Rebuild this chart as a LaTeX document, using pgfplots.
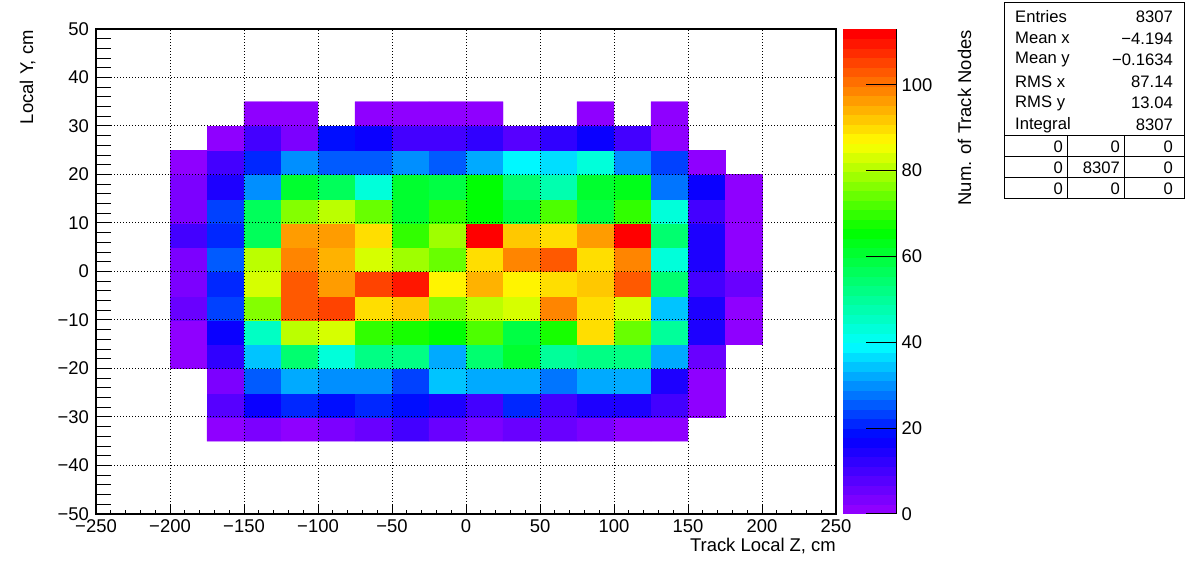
\documentclass[border=0pt]{standalone}
\usepackage{pgfplots}
\pgfplotsset{compat=1.18}
\usepackage{pgfplotstable}
\usepackage{fontspec}
\setmainfont{Liberation Sans}
\newcommand\tfont{\fontsize{18.5}{20}\selectfont}
\newcommand\sfont{\fontsize{16.7}{18}\selectfont}

\pgfplotsset{
  colormap={rootcont}{
    rgb255(0pt)=(143,0,255)
    rgb255(17pt)=(0,0,255)
    rgb255(39pt)=(0,255,255)
    rgb255(66pt)=(0,255,0)
    rgb255(87pt)=(255,255,0)
    rgb255(100pt)=(255,128,0)
    rgb255(113pt)=(255,0,0)
  },
  colormap={rootpal}{samples of colormap=(51 of rootcont)},
}

\pgfplotstableread{
x y c
-187.5 -32.5 nan
-162.5 -32.5 1
-137.5 -32.5 3
-112.5 -32.5 1
-87.5 -32.5 3
-62.5 -32.5 6
-37.5 -32.5 9
-12.5 -32.5 5
12.5 -32.5 3
37.5 -32.5 6
62.5 -32.5 6
87.5 -32.5 3
112.5 -32.5 1
137.5 -32.5 1
162.5 -32.5 nan
187.5 -32.5 nan
-187.5 -27.5 nan
-162.5 -27.5 7
-137.5 -27.5 17
-112.5 -27.5 20
-87.5 -27.5 19
-62.5 -27.5 20
-37.5 -27.5 19
-12.5 -27.5 14
12.5 -27.5 9
37.5 -27.5 21
62.5 -27.5 11
87.5 -27.5 14
112.5 -27.5 14
137.5 -27.5 11
162.5 -27.5 2
187.5 -27.5 nan
-187.5 -22.5 nan
-162.5 -22.5 3
-137.5 -22.5 26
-112.5 -22.5 32
-87.5 -22.5 29
-62.5 -22.5 29
-37.5 -22.5 24
-12.5 -22.5 35
12.5 -22.5 33
37.5 -22.5 33
62.5 -22.5 27
87.5 -22.5 33
112.5 -22.5 32
137.5 -22.5 14
162.5 -22.5 2
187.5 -22.5 nan
-187.5 -17.5 1
-162.5 -17.5 12
-137.5 -17.5 35
-112.5 -17.5 55
-87.5 -17.5 43
-62.5 -17.5 52
-37.5 -17.5 53
-12.5 -17.5 33
12.5 -17.5 55
37.5 -17.5 62
62.5 -17.5 50
87.5 -17.5 53
112.5 -17.5 53
137.5 -17.5 33
162.5 -17.5 6
187.5 -17.5 nan
-187.5 -12.5 1
-162.5 -12.5 17
-137.5 -12.5 46
-112.5 -12.5 81
-87.5 -12.5 83
-62.5 -12.5 69
-37.5 -12.5 67
-12.5 -12.5 66
12.5 -12.5 73
37.5 -12.5 58
62.5 -12.5 67
87.5 -12.5 89
112.5 -12.5 74
137.5 -12.5 50
162.5 -12.5 14
187.5 -12.5 1
-187.5 -7.5 6
-162.5 -7.5 23
-137.5 -7.5 76
-112.5 -7.5 103
-87.5 -7.5 106
-62.5 -7.5 89
-37.5 -7.5 91
-12.5 -7.5 77
12.5 -7.5 81
37.5 -7.5 84
62.5 -7.5 99
87.5 -7.5 89
112.5 -7.5 83
137.5 -7.5 35
162.5 -7.5 14
187.5 -7.5 1
-187.5 -2.5 3
-162.5 -2.5 21
-137.5 -2.5 83
-112.5 -2.5 103
-87.5 -2.5 96
-62.5 -2.5 106
-37.5 -2.5 110
-12.5 -2.5 87
12.5 -2.5 94
37.5 -2.5 87
62.5 -2.5 89
87.5 -2.5 91
112.5 -2.5 103
137.5 -2.5 55
162.5 -2.5 9
187.5 -2.5 6
-187.5 2.5 3
-162.5 2.5 26
-137.5 2.5 81
-112.5 2.5 99
-87.5 2.5 94
-62.5 2.5 84
-37.5 2.5 79
-12.5 2.5 74
12.5 2.5 89
37.5 2.5 99
62.5 2.5 103
87.5 2.5 89
112.5 2.5 99
137.5 2.5 44
162.5 2.5 14
187.5 2.5 2
-187.5 7.5 9
-162.5 7.5 21
-137.5 7.5 57
-112.5 7.5 96
-87.5 7.5 96
-62.5 7.5 89
-37.5 7.5 70
-12.5 7.5 79
12.5 7.5 113
37.5 7.5 91
62.5 7.5 89
87.5 7.5 96
112.5 7.5 112
137.5 7.5 55
162.5 7.5 14
187.5 7.5 2
-187.5 12.5 3
-162.5 12.5 24
-137.5 12.5 57
-112.5 12.5 76
-87.5 12.5 81
-62.5 12.5 74
-37.5 12.5 61
-12.5 12.5 70
12.5 12.5 66
37.5 12.5 58
62.5 12.5 73
87.5 12.5 58
112.5 12.5 69
137.5 12.5 44
162.5 12.5 9
187.5 12.5 1
-187.5 17.5 3
-162.5 17.5 14
-137.5 17.5 29
-112.5 17.5 61
-87.5 17.5 57
-62.5 17.5 44
-37.5 17.5 62
-12.5 17.5 58
12.5 17.5 66
37.5 17.5 55
62.5 17.5 48
87.5 17.5 62
112.5 17.5 64
137.5 17.5 27
162.5 17.5 17
187.5 17.5 1
-187.5 22.5 1
-162.5 22.5 11
-137.5 22.5 22
-112.5 22.5 29
-87.5 22.5 25
-62.5 22.5 25
-37.5 22.5 29
-12.5 22.5 25
12.5 22.5 33
37.5 22.5 39
62.5 22.5 37
87.5 22.5 44
112.5 22.5 29
137.5 22.5 23
162.5 22.5 2
187.5 22.5 nan
-187.5 27.5 nan
-162.5 27.5 1
-137.5 27.5 11
-112.5 27.5 3
-87.5 27.5 19
-62.5 27.5 17
-37.5 27.5 10
-12.5 27.5 11
12.5 27.5 12
37.5 27.5 8
62.5 27.5 13
87.5 27.5 17
112.5 27.5 9
137.5 27.5 2
162.5 27.5 nan
187.5 27.5 nan
-187.5 32.5 nan
-162.5 32.5 nan
-137.5 32.5 1
-112.5 32.5 1
-87.5 32.5 nan
-62.5 32.5 1
-37.5 32.5 1
-12.5 32.5 2
12.5 32.5 1
37.5 32.5 nan
62.5 32.5 nan
87.5 32.5 2
112.5 32.5 nan
137.5 32.5 1
162.5 32.5 nan
187.5 32.5 nan
}\histdata

\begin{document}
\begin{tikzpicture}
\useasboundingbox (0,0) rectangle (1196bp,572bp);
\begin{axis}[
  at={(96bp,58bp)}, anchor=south west,
  width=740bp, height=485bp, scale only axis,
  xmin=-250, xmax=250, ymin=-50, ymax=50,
  xtick={-250,-200,...,250},
  xticklabels={−250,−200,−150,−100,−50,0,50,100,150,200,250},
  ytick={-50,-40,...,50},
  yticklabels={−50,−40,−30,−20,−10,0,10,20,30,40,50},
  minor x tick num=4, minor y tick num=4,
  tick align=inside, xtick pos=bottom, ytick pos=left,
  major tick length=10bp, minor tick length=4.5bp,
  tick style={black, line width=1bp},
  xmajorgrids, ymajorgrids,
  grid style={black, line width=1bp, dash pattern=on 1bp off 2bp},
  axis on top,
  axis line style={line width=1.8bp},
  xticklabel style={font=\tfont, inner sep=0pt, anchor=north, yshift=-5bp},
  yticklabel style={font=\tfont, inner sep=0pt, anchor=east, xshift=-7bp},
  colormap name=rootpal,
  colormap access=piecewise constant,
  point meta min=0, point meta max=113,
  unbounded coords=jump,
  colorbar,
  colorbar style={
    at={(parent axis.north east)}, anchor=north west, xshift=-2bp,
    width=54bp, height=485bp, scale only axis,
    ytick={0,20,40,60,80,100},
    yticklabels={0,20,40,60,80,100},
    axis x line=none, axis y line*=right,
    tick align=inside, major tick length=31bp,
    minor y tick num=0,
    axis on top,
    tick style={black, line width=1bp},
    axis line style={line width=1bp},
    yticklabel style={font=\tfont, inner sep=0pt, anchor=west, xshift=5bp},
  },
]
\addplot[matrix plot*, mesh/cols=16, point meta=explicit] table[x=x, y=y, meta=c] {\histdata};
\end{axis}
\begin{axis}[
  at={(96bp,58bp)}, anchor=south west,
  width=740bp, height=485bp, scale only axis,
  xmin=-250, xmax=250, ymin=-50, ymax=50,
  axis x line=none, axis y line*=left,
  ytick={-50,-40,...,50}, yticklabels={},
  minor y tick num=4, tick align=inside,
  major tick length=15bp, minor tick length=15bp,
  tick style={black, line width=1bp},
  axis line style={line width=1.8bp},
]
\end{axis}
% axis titles
\node[font=\tfont, anchor=base east, inner sep=0pt] at (836bp,21bp) {Track Local Z, cm};
\node[font=\tfont, rotate=90, anchor=base east, inner sep=0pt] at (33bp,542bp) {Local Y, cm};
\node[font=\tfont, rotate=90, anchor=base east, inner sep=0pt] at (971bp,542bp) {Num. of Track Nodes};
% stats box
\fill[white] (1004bp,373bp) rectangle (1184bp,569bp);
\draw[line width=1bp] (1004bp,373bp) rectangle (1184bp,569bp);
\draw[line width=1bp] (1004bp,436bp) -- (1184bp,436bp);
\draw[line width=1bp] (1004bp,415bp) -- (1184bp,415bp);
\draw[line width=1bp] (1004bp,394bp) -- (1184bp,394bp);
\draw[line width=1bp] (1067bp,436bp) -- (1067bp,373bp);
\draw[line width=1bp] (1124bp,436bp) -- (1124bp,373bp);
\begin{scope}[every node/.style={font=\sfont, inner sep=0pt}]
\node[anchor=west] at (1015bp,555.3bp) {Entries};
\node[anchor=east] at (1173bp,555.3bp) {8307};
\node[anchor=west] at (1015bp,533.7bp) {Mean x};
\node[anchor=east] at (1173bp,533.7bp) {−4.194};
\node[anchor=west] at (1015bp,512bp) {Mean y};
\node[anchor=east] at (1173bp,512bp) {−0.1634};
\node[anchor=west] at (1015bp,490.4bp) {RMS x};
\node[anchor=east] at (1173bp,490.4bp) {87.14};
\node[anchor=west] at (1015bp,468.8bp) {RMS y};
\node[anchor=east] at (1173bp,468.8bp) {13.04};
\node[anchor=west] at (1015bp,447.2bp) {Integral};
\node[anchor=east] at (1173bp,447.2bp) {8307};
\node[anchor=east] at (1063bp,425.5bp) {0};
\node[anchor=east] at (1120bp,425.5bp) {0};
\node[anchor=east] at (1173bp,425.5bp) {0};
\node[anchor=east] at (1063bp,404.5bp) {0};
\node[anchor=east] at (1120bp,404.5bp) {8307};
\node[anchor=east] at (1173bp,404.5bp) {0};
\node[anchor=east] at (1063bp,383.5bp) {0};
\node[anchor=east] at (1120bp,383.5bp) {0};
\node[anchor=east] at (1173bp,383.5bp) {0};
\end{scope}
\end{tikzpicture}
\end{document}
